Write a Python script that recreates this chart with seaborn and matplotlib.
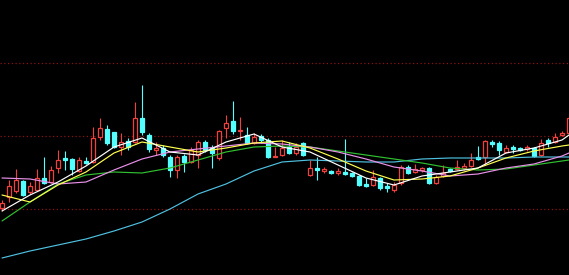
import numpy as np
import pandas as pd
import matplotlib
matplotlib.use("Agg")
import matplotlib.pyplot as plt
import seaborn as sns

# ---- candle data (price units, higher = up) ----
# each candle: body top, body bottom, high, low (read in screen rows), direction
body_top = [203,186,180,181,186,178,178,170,160,158,159,160,161,138,128,129,132,142,141,118,
            118,135,148,148,157,157,156,150,142,142,148,131,123,121,130,135,137,136,140,156,
            148,147,147,143,168,168,169,171,171,172,173,176,184,177,178,186,185,167,167,169,
            168,168,177,173,169,167,166,160,157,141,142,143,148,147,148,147,148,143,140,137,
            133,118]
body_bot = [208,197,191,195,192,190,183,182,168,160,169,171,163,162,137,143,147,147,147,142,
            132,149,150,155,170,170,162,162,155,150,153,158,128,131,131,143,143,140,157,157,
            155,153,153,155,175,170,171,173,173,174,176,185,186,185,188,188,190,183,173,172,
            170,183,183,176,171,169,168,166,159,157,144,150,152,149,150,149,156,155,143,142,
            135,133]
high_row = [200,180,169,180,182,169,157,166,150,151,158,157,157,127,118,125,132,133,138,102,
            85,133,142,145,155,155,154,147,140,140,145,130,115,101,117,127,133,134,138,147,
            140,142,143,142,160,157,167,170,168,139,172,175,178,170,177,183,182,165,165,164,
            167,167,175,165,168,160,163,153,146,140,140,141,145,145,147,145,147,139,138,133,
            131,113]
low_row = [211,202,193,196,194,191,184,183,173,170,175,172,164,163,140,145,148,155,150,143,
           135,152,155,157,177,178,172,163,168,152,168,160,138,134,140,144,144,143,158,157,
           156,154,155,156,176,180,173,174,175,175,177,186,187,186,190,192,192,185,174,173,
           172,184,184,177,172,170,170,167,160,165,147,155,153,153,151,151,157,156,147,143,
           136,134]
rising = [1,1,1,0,1,1,0,1,1,0,0,1,0,1,1,0,0,1,0,1,
          0,0,1,0,0,1,0,1,1,0,0,1,1,0,1,0,1,0,0,1,
          1,0,1,0,1,0,1,0,1,0,0,0,0,1,0,0,1,1,0,1,
          1,0,1,1,0,1,1,1,0,1,0,0,1,0,0,1,0,1,0,1,
          1,1]

# ---- moving average lines, sampled at candle indices ----
ma_idx = [0,4,8,12,16,20,24,28,32,36,40,44,48,52,56,60,64,68,72,76,80,81]
ma5_row  = [211,195,182,166,147,138,152,155,142,134,147,152,165,178,185,176,172,168,153,148,140,135]
ma10_row = [195,202,185,172,153,142,147,152,148,143,141,148,159,171,180,179,176,168,158,151,146,145]
ma20_row = [178,179,184,182,170,159,152,149,146,143,144,147,152,159,167,171,176,174,168,164,156,153]
ma30_row = [221,202,184,175,172,173,168,160,152,147,146,147,151,155,159,163,168,170,169,165,161,160]
ma60_row = [258,251,245,239,231,222,209,194,184,171,162,160,161,162,162,159,158,158,158,157,157,157]

H = 275
def to_price(rows):
    return np.array([H - r for r in rows], dtype=float)

top = to_price(body_top)
bot = to_price(body_bot)
hi = to_price(high_row)
lo = to_price(low_row)
n = len(top)

sns.set_style("dark", {"axes.facecolor": "black", "figure.facecolor": "black"})
fig = plt.figure(figsize=(5.69, 2.75), dpi=100, facecolor="black")
ax = fig.add_axes([0, 0, 1, 1])
ax.set_facecolor("black")

RED = "#f04040"
CYAN = "#54ffff"

# grid lines
for r in [63, 136, 209]:
    ax.axhline(H - r, color="#8c1010", lw=0.9, ls=(0, (1, 2)), zorder=1)

# wicks
for i in range(n):
    c = RED if rising[i] else CYAN
    ax.vlines(i, top[i], hi[i], color=c, lw=0.8, zorder=2)
    ax.vlines(i, lo[i], bot[i], color=c, lw=0.8, zorder=2)

# bodies
heights = np.maximum(top - bot, 0.3)
for i in range(n):
    if rising[i]:
        ax.bar(i, heights[i], bottom=bot[i], width=0.62, facecolor="black",
               edgecolor=RED, linewidth=0.9, zorder=3)
    else:
        ax.bar(i, heights[i], bottom=bot[i], width=0.62, facecolor=CYAN,
               edgecolor=CYAN, linewidth=0.9, zorder=3)

# moving averages
ma_df = pd.DataFrame({
    "idx": ma_idx * 5,
    "value": np.concatenate([to_price(ma60_row), to_price(ma30_row), to_price(ma20_row),
                             to_price(ma10_row), to_price(ma5_row)]),
    "line": ["MA60"] * len(ma_idx) + ["MA30"] * len(ma_idx) + ["MA20"] * len(ma_idx)
            + ["MA10"] * len(ma_idx) + ["MA5"] * len(ma_idx),
})
palette = {"MA60": "#4fc0e0", "MA30": "#30c030", "MA20": "#e890e8",
           "MA10": "#ffff50", "MA5": "#ffffff"}
sns.lineplot(data=ma_df, x="idx", y="value", hue="line", palette=palette,
             linewidth=0.85, legend=False, ax=ax, zorder=4, sort=False)

ax.set_xlim(-2 / 7, 567 / 7)
ax.set_ylim(0, H)
ax.set_xticks([])
ax.set_yticks([])
ax.set_xlabel("")
ax.set_ylabel("")
for s in ax.spines.values():
    s.set_visible(False)
ax.grid(False)

fig.savefig("out.png", dpi=100, facecolor="black")
